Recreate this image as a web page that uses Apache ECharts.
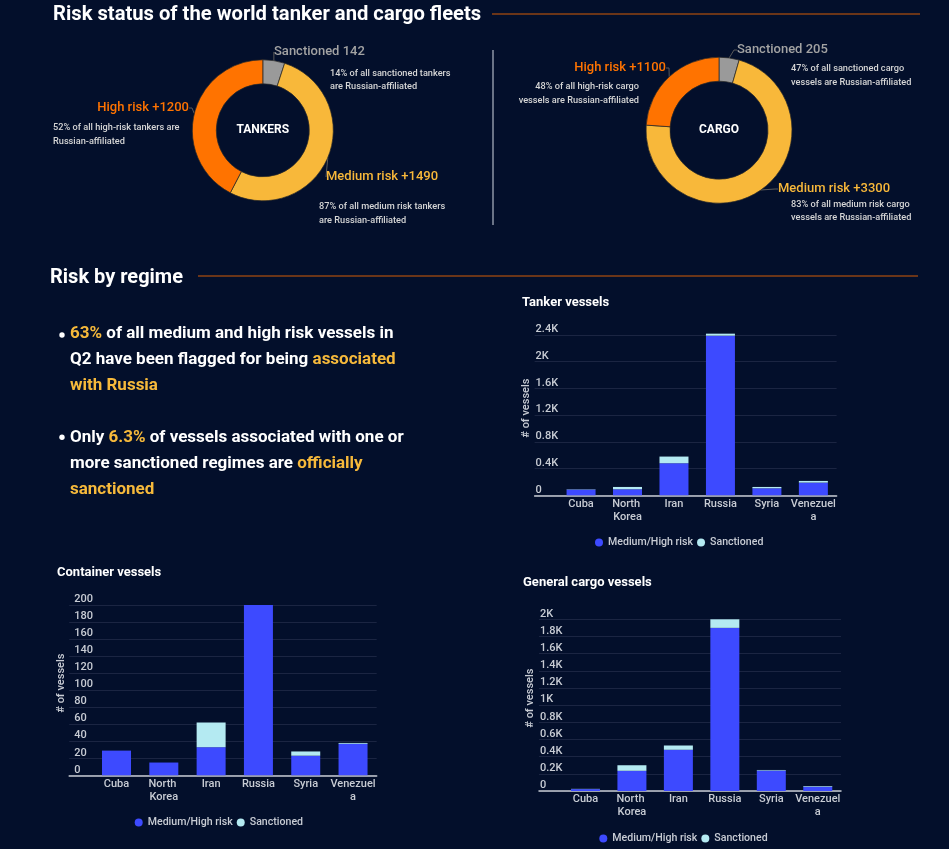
<!DOCTYPE html>
<html>
<head>
<meta charset="utf-8">
<script src="https://cdn.jsdelivr.net/npm/echarts@6/dist/echarts.min.js"></script>
<style>
html,body{margin:0;padding:0;background:#030f2b;}
#main{width:949px;height:849px;}
</style>
</head>
<body>
<div id="main"></div>
<script>
// ---------- DATA ----------
const pieNames = ['Sanctioned', 'Medium risk', 'High risk'];
const piePrefix = ['', '+', '+'];
const tankerPie = [142, 1490, 1200];
const cargoPie = [205, 3300, 1100];

const regimes = ['Cuba', 'North Korea', 'Iran', 'Russia', 'Syria', 'Venezuela'];
const seriesNames = ['Medium/High risk', 'Sanctioned'];

const tankerMed  = [85, 90, 480, 2390, 105, 190];
const tankerSanc = [5, 35, 100, 30, 20, 25];
const containerMed  = [29, 15, 33, 200, 23, 37];
const containerSanc = [0, 0, 29, 0, 5, 1];
const generalMed  = [22, 235, 480, 1900, 238, 50];
const generalSanc = [3, 65, 50, 100, 7, 8];

const tankerTicks = { max: 2400, interval: 400 };
const containerTicks = { max: 200, interval: 20 };
const generalTicks = { max: 2000, interval: 200 };

// ---------- STYLE ----------
const FONT = 'Roboto';
const C_BG = '#030f2b';
const C_MED = '#3d4aff';
const C_SANC = '#b4eaf2';
const C_AX = '#c8ccd4';
const C_GRID = '#1b2542';
const C_HI = '#f6b93b';
const pieColors = ['#9a9a9a', '#f8b83a', '#ff7300'];

const chart = echarts.init(document.getElementById('main'), null, { renderer: 'canvas' });

function kFmt(v) { return v === 0 ? '0' : (Math.round(v) / 1000) + 'K'; }
function plainFmt(v) { return String(v); }

const grids = [
  { left: 534.6, top: 335, width: 302, height: 160.3 },
  { left: 69.2, top: 605, width: 307.5, height: 170.3 },
  { left: 539, top: 619.3, width: 302, height: 171.7 }
];
const ticks = [tankerTicks, containerTicks, generalTicks];
const fmts = [kFmt, plainFmt, kFmt];
const labelMargins = [1, 5, 1];
const barData = [[tankerMed, tankerSanc], [containerMed, containerSanc], [generalMed, generalSanc]];
const legendPos = [{ left: 590, top: 532 }, { left: 129.7, top: 812 }, { left: 594.3, top: 828 }];

const xAxes = grids.map((g, i) => ({
  type: 'value', gridIndex: i, min: -1, max: 5.5, interval: 1,
  axisLine: { show: true, onZero: false, lineStyle: { color: C_AX, width: 1.5 } },
  axisTick: { show: false },
  splitLine: { show: false },
  axisLabel: {
    color: C_AX, fontFamily: FONT, fontSize: 11, fontWeight: 500, margin: 2,
    lineHeight: 13, width: 46, overflow: 'break',
    formatter: v => (Number.isInteger(v) && regimes[v]) ? regimes[v] : ''
  }
}));
const yAxes = grids.map((g, i) => ({
  type: 'value', gridIndex: i, min: 0, max: ticks[i].max, interval: ticks[i].interval,
  name: '# of vessels', nameLocation: 'middle', nameRotate: 90, nameGap: 2,
  nameTextStyle: { color: C_AX, fontFamily: FONT, fontSize: 11, fontWeight: 500, padding: [0, 0, 0, 14] },
  axisLine: { show: false }, axisTick: { show: false },
  splitLine: { show: true, lineStyle: { color: C_GRID, width: 1 } },
  axisLabel: {
    inside: true, align: 'left', verticalAlign: 'bottom', margin: labelMargins[i],
    color: C_AX, fontFamily: FONT, fontSize: 11, fontWeight: 500,
    formatter: fmts[i]
  }
}));

const barSeries = [];
barData.forEach((pair, gi) => {
  pair.forEach((vals, si) => {
    barSeries.push({
      type: 'bar', name: seriesNames[si], xAxisIndex: gi, yAxisIndex: gi,
      stack: 'g' + gi, barWidth: 29, clip: false,
      encode: { x: 1, y: 0 },
      itemStyle: { color: si === 0 ? C_MED : C_SANC },
      emphasis: { disabled: true },
      data: vals.map((v, k) => [v, k])
    });
  });
});

const legends = legendPos.map(p => ({
  left: p.left, top: p.top, orient: 'horizontal',
  icon: 'circle', itemWidth: 8, itemHeight: 8, itemGap: 4,
  data: seriesNames,
  textStyle: { color: C_AX, fontFamily: FONT, fontSize: 10.6, fontWeight: 500 }
}));

const tankerLabelPos = [
  { x: 274, y: 52, align: 'left' },
  { x: 326, y: 177, align: 'left' },
  { x: 189, y: 108, align: 'right' }
];
const cargoLabelPos = [
  { x: 737, y: 50, align: 'left' },
  { x: 778, y: 189, align: 'left' },
  { x: 666, y: 68, align: 'right' }
];

function pieSeries(values, center, radius, posArr) {
  return {
    type: 'pie', center: center, radius: radius, startAngle: 90, clockwise: true,
    silent: true, animation: false,
    itemStyle: { borderColor: 'rgba(40,40,40,0.9)', borderWidth: 0.8 },
    label: {
      show: true, fontFamily: FONT, fontSize: 13, fontWeight: 500,
      formatter: p => p.name + ' ' + piePrefix[p.dataIndex] + p.value
    },
    labelLine: { show: true, length: 4, length2: 3, lineStyle: { color: '#5a5a5a', width: 1 } },
    labelLayout: p => {
      const q = posArr[p.dataIndex];
      return { x: q.x, y: q.y, align: q.align, verticalAlign: 'middle' };
    },
    data: values.map((v, i) => ({
      name: pieNames[i], value: v,
      itemStyle: { color: pieColors[i] },
      label: { color: pieColors[i] === '#9a9a9a' ? '#a3a3a3' : pieColors[i] }
    }))
  };
}

function txt(text, x, y, opt) {
  opt = opt || {};
  return {
    type: 'text', silent: true,
    style: Object.assign({
      text: text, x: x, y: y, fill: opt.fill || '#ffffff',
      font: (opt.weight || 'bold') + ' ' + (opt.size || 12) + 'px ' + FONT,
      align: opt.align || 'left', textAlign: opt.align || 'left',
      verticalAlign: opt.va || 'middle', textVerticalAlign: opt.va || 'middle',
      lineHeight: opt.lh
    }, opt.extra || {})
  };
}
function hline(x1, x2, y, color, w) {
  return { type: 'line', silent: true, shape: { x1: x1, y1: y, x2: x2, y2: y }, style: { stroke: color, lineWidth: w } };
}
const NOTE = { size: 9.2, weight: 500, fill: '#d6d6d6', va: 'top', lh: 13.5 };

const richStyles = {
  w: { fill: '#ffffff', fontFamily: FONT, fontSize: 17, fontWeight: 'bold', lineHeight: 26 },
  y: { fill: C_HI, fontFamily: FONT, fontSize: 17, fontWeight: 'bold', lineHeight: 26 }
};

const graphics = [
  txt('Risk status of the world tanker and cargo fleets', 53, 14.5, { size: 20.2 }),
  hline(492, 920, 14, '#6b3518', 2),
  { type: 'line', silent: true, shape: { x1: 493, y1: 50, x2: 493, y2: 225 }, style: { stroke: '#6a7386', lineWidth: 2 } },
  txt('TANKERS', 262.8, 130.3, { size: 12 , align: 'center' }),
  txt('CARGO', 719, 130.2, { size: 12, align: 'center' }),
  txt('14% of all sanctioned tankers\nare Russian-affiliated', 330, 66.5, NOTE),
  txt('52% of all high-risk tankers are\nRussian-affiliated', 53, 121, NOTE),
  txt('87% of all medium risk tankers\nare Russian-affiliated', 319, 200, NOTE),
  txt('47% of all sanctioned cargo\nvessels are Russian-affiliated', 791, 62.3, NOTE),
  txt('48% of all high-risk cargo\nvessels are Russian-affiliated', 639, 80, Object.assign({}, NOTE, { align: 'right' })),
  txt('83% of all medium risk cargo\nvessels are Russian-affiliated', 791, 197.5, NOTE),
  txt('Risk by regime', 50, 277.5, { size: 20 }),
  hline(198, 918, 276, '#6b3518', 2),
  { type: 'circle', silent: true, shape: { cx: 62, cy: 335, r: 2.7 }, style: { fill: '#ffffff' } },
  { type: 'circle', silent: true, shape: { cx: 62, cy: 437.3, r: 2.7 }, style: { fill: '#ffffff' } },
  {
    type: 'text', silent: true,
    style: {
      x: 70, y: 321, text: '{y|63%}{w| of all medium and high risk vessels in}\n{w|Q2 have been flagged for being }{y|associated}\n{y|with Russia}',
      rich: richStyles, font: 'bold 17px ' + FONT, lineHeight: 26, verticalAlign: 'top', textVerticalAlign: 'top'
    }
  },
  {
    type: 'text', silent: true,
    style: {
      x: 70, y: 424.5, text: '{w|Only }{y|6.3%}{w| of vessels associated with one or}\n{w|more sanctioned regimes are }{y|officially}\n{y|sanctioned}',
      rich: richStyles, font: 'bold 17px ' + FONT, lineHeight: 26, verticalAlign: 'top', textVerticalAlign: 'top'
    }
  },
  txt('Tanker vessels', 522, 302.3, { size: 13 }),
  txt('Container vessels', 57, 572.3, { size: 13 }),
  txt('General cargo vessels', 523, 582.3, { size: 13 })
];

const option = {
  backgroundColor: C_BG,
  animation: false,
  textStyle: { fontFamily: FONT },
  grid: grids.map(g => Object.assign({ containLabel: false }, g)),
  xAxis: xAxes,
  yAxis: yAxes,
  legend: legends,
  series: [
    pieSeries(tankerPie, [262.8, 130.3], [46.5, 70.5], tankerLabelPos),
    pieSeries(cargoPie, [719, 130.2], [49, 73], cargoLabelPos)
  ].concat(barSeries),
  graphic: graphics
};
chart.setOption(option);
</script>
</body>
</html>
